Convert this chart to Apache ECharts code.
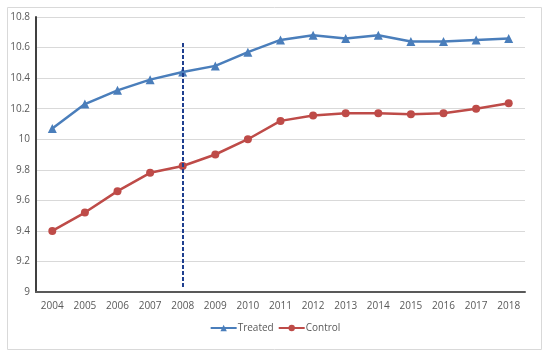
<!DOCTYPE html>
<html><head><meta charset="utf-8">
<script src="https://cdn.jsdelivr.net/npm/echarts@6/dist/echarts.min.js"></script>
<style>html,body{margin:0;padding:0;background:#fff}#c{width:550px;height:359px}</style>
</head><body><div id="c"></div>
<script>
const years = ['2004','2005','2006','2007','2008','2009','2010','2011','2012','2013','2014','2015','2016','2017','2018'];
const treated = [10.07,10.23,10.32,10.39,10.44,10.48,10.57,10.65,10.68,10.66,10.68,10.64,10.64,10.65,10.66];
const control = [9.40,9.52,9.66,9.78,9.825,9.90,10.0,10.12,10.155,10.17,10.17,10.163,10.17,10.20,10.235];
const yTicks = [9,9.2,9.4,9.6,9.8,10,10.2,10.4,10.6,10.8];
const treatYear = '2008';
const markTop = 10.63;

const chart = echarts.init(document.getElementById('c'));
const lab = {color:'#595959', fontSize:10, fontFamily:'Open Sans, Calibri, sans-serif'};
chart.setOption({
  animation:false,
  graphic:[{type:'rect',shape:{x:7.5,y:7.5,width:534,height:342},style:{fill:'none',stroke:'#d9d9d9',lineWidth:1}}],
  grid:{left:36,right:25,top:17,bottom:67},
  xAxis:{type:'category',data:years,boundaryGap:true,
    axisLine:{lineStyle:{color:'#595959',width:2}},axisTick:{show:false},
    axisLabel:Object.assign({margin:9},lab)},
  yAxis:{type:'value',min:yTicks[0],max:yTicks[yTicks.length-1],interval:0.2,
    axisLine:{show:true,lineStyle:{color:'#404040',width:2}},axisTick:{show:false},
    splitLine:{lineStyle:{color:'#d9d9d9',width:1}},
    axisLabel:Object.assign({margin:6,formatter:v=>String(Math.round(v*10)/10)},lab)},
  legend:{bottom:21,left:'center',itemWidth:26,itemHeight:8,itemGap:4,
    textStyle:{color:'#595959',fontSize:10,fontFamily:'Open Sans, Calibri, sans-serif',padding:[0,0,0,-4]},
    data:['Treated','Control']},
  series:[
    {name:'Treated',type:'line',data:treated,symbol:'triangle',symbolSize:9,
      itemStyle:{color:'#4a7ebb'},lineStyle:{color:'#4a7ebb',width:2.5},
      markLine:{silent:true,symbol:'none',label:{show:false},
        lineStyle:{color:'#1f3f8f',type:[4,2],width:2},
        data:[[{coord:[treatYear,markTop]},{coord:[treatYear,yTicks[0]+0.03]}]]}},
    {name:'Control',type:'line',data:control,symbol:'circle',symbolSize:8,
      itemStyle:{color:'#be4b48'},lineStyle:{color:'#be4b48',width:2.5}}
  ]
});
</script></body></html>
